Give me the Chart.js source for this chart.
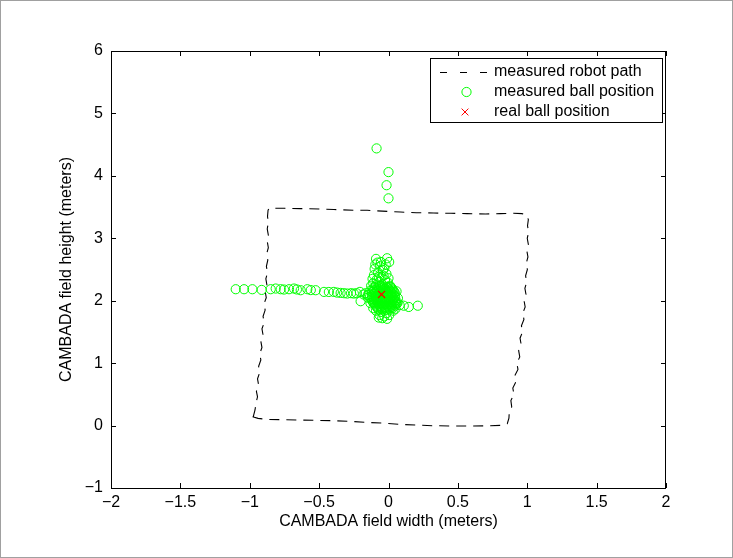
<!DOCTYPE html>
<html><head><meta charset="utf-8">
<script src="https://cdn.jsdelivr.net/npm/chart.js@4/dist/chart.umd.min.js"></script>
<style>html,body{margin:0;padding:0;background:#fff;}</style>
</head><body>
<canvas id="c" width="733" height="558"></canvas>
<script>
// ---- data ----
const xTicks = [-2, -1.5, -1, -0.5, 0, 0.5, 1, 1.5, 2];
const yTicks = [-1, 0, 1, 2, 3, 4, 5, 6];
const xLabel = 'CAMBADA field width (meters)';
const yLabel = 'CAMBADA field height (meters)';
const seriesNames = ['measured robot path', 'measured ball position', 'real ball position'];

// measured robot path (x, y)
const robotPath = [
  [-0.975,0.14],[-0.962,0.25],[-0.955,0.36],[-0.944,0.46],[-0.952,0.55],[-0.936,0.65],[-0.944,0.75],
  [-0.928,0.85],[-0.936,0.95],[-0.920,1.05],[-0.928,1.15],[-0.912,1.25],[-0.920,1.35],[-0.904,1.45],
  [-0.912,1.55],[-0.896,1.65],[-0.904,1.75],[-0.889,1.85],[-0.897,1.95],[-0.881,2.05],[-0.889,2.15],
  [-0.876,2.25],[-0.884,2.35],[-0.872,2.45],[-0.880,2.55],[-0.870,2.65],[-0.878,2.75],[-0.866,2.85],
  [-0.874,2.95],[-0.866,3.05],[-0.874,3.15],[-0.866,3.25],[-0.872,3.35],[-0.868,3.45],[-0.860,3.48],
  [-0.75,3.48],[-0.633,3.475],[-0.50,3.47],[-0.393,3.46],[-0.25,3.45],[-0.153,3.448],[0.0,3.43],
  [0.086,3.42],[0.2,3.41],[0.326,3.405],[0.45,3.40],[0.566,3.395],[0.7,3.39],[0.806,3.395],
  [0.90,3.40],[0.962,3.395],[0.995,3.37],[1.008,3.30],
  [1.002,3.20],[1.010,3.10],[1.000,3.00],[1.008,2.90],[0.997,2.80],[1.005,2.70],[0.993,2.60],
  [1.001,2.50],[0.988,2.40],[0.996,2.30],[0.983,2.20],[0.991,2.10],[0.977,2.00],[0.985,1.90],
  [0.968,1.80],[0.976,1.70],[0.958,1.60],[0.966,1.50],[0.948,1.40],[0.956,1.30],[0.938,1.20],
  [0.946,1.10],[0.925,1.00],[0.933,0.90],[0.910,0.80],[0.918,0.70],[0.896,0.60],[0.904,0.50],
  [0.882,0.40],[0.888,0.30],[0.870,0.20],[0.868,0.12],[0.856,0.03],
  [0.806,0.003],[0.70,-0.005],[0.566,-0.008],[0.45,-0.006],[0.326,-0.003],[0.2,0.008],[0.086,0.019],
  [-0.05,0.04],[-0.153,0.051],[-0.28,0.068],[-0.393,0.077],[-0.52,0.084],[-0.633,0.088],
  [-0.75,0.093],[-0.873,0.098],[-0.94,0.115],[-0.981,0.141]
];

// measured ball positions (x, y)
const ballPoints = [
  [-0.086,4.44],[0.0,4.06],[-0.014,3.85],[0.0,3.64],
  [-1.101,2.184],[-1.041,2.184],[-0.981,2.184],[-0.914,2.173],[-0.849,2.184],[-0.813,2.195],
  [-0.777,2.184],[-0.753,2.179],[-0.717,2.184],[-0.681,2.195],[-0.633,2.168],[-0.585,2.184],
  [-0.525,2.168],[-0.465,2.141],[-0.394,2.141],[-0.345,2.125],[-0.297,2.115],[-0.250,2.115],
  [-0.206,2.141],[-0.201,1.992],[-0.66,2.18],[-0.56,2.17],[-0.43,2.14],[-0.37,2.13],[-0.32,2.12],
  [-0.27,2.12],[-0.23,2.12],[-0.18,2.10],[-0.15,2.09],
  [-0.090,2.67],[-0.010,2.68],[-0.080,2.61],[-0.020,2.58],[-0.060,2.55],[-0.100,2.51],[-0.040,2.49],
  [-0.075,2.45],[-0.015,2.43],[-0.105,2.41],[-0.050,2.38],[-0.085,2.34],[-0.025,2.33],[-0.065,2.30],
  [-0.110,2.28],[-0.005,2.29],[-0.045,2.26],[-0.090,2.25],
  [-0.115,2.35],[-0.030,2.52],[-0.055,2.62],[0.005,2.62],[-0.095,2.58],[-0.035,2.40],[-0.070,2.38],[0.000,2.36],
  [-0.125,2.24],[-0.060,2.24],[0.010,2.24],[-0.132,2.16],[0.058,2.15],[-0.135,2.06],[0.068,2.04],
  [-0.130,1.96],[0.066,1.97],[-0.110,1.88],[0.050,1.87],[-0.090,1.84],[0.035,1.84],
  [-0.100,2.22],[-0.070,2.22],[-0.040,2.22],[-0.012,2.22],[0.015,2.22],
  [-0.085,2.20],[-0.055,2.20],[-0.027,2.20],[0.000,2.20],[0.025,2.20],
  [-0.112,2.18],[-0.085,2.18],[-0.055,2.18],[-0.027,2.18],[0.002,2.18],[0.028,2.18],
  [-0.105,2.16],[-0.077,2.16],[-0.048,2.16],[-0.020,2.16],[0.010,2.16],[0.035,2.16],
  [-0.118,2.14],[-0.092,2.14],[-0.062,2.14],[-0.035,2.14],[-0.008,2.14],[0.020,2.14],[0.042,2.14],
  [-0.100,2.12],[-0.070,2.12],[-0.040,2.12],[-0.010,2.12],[0.022,2.12],[0.045,2.12],
  [-0.108,2.10],[-0.078,2.10],[-0.050,2.10],[-0.022,2.10],[0.008,2.10],[0.035,2.10],
  [-0.120,2.08],[-0.092,2.08],[-0.064,2.08],[-0.036,2.08],[-0.008,2.08],[0.020,2.08],[0.045,2.08],
  [-0.115,2.06],[-0.088,2.06],[-0.060,2.06],[-0.032,2.06],[-0.004,2.06],[0.024,2.06],[0.048,2.06],
  [-0.100,2.04],[-0.072,2.04],[-0.044,2.04],[-0.016,2.04],[0.012,2.04],[0.038,2.04],
  [-0.105,2.02],[-0.075,2.02],[-0.046,2.02],[-0.018,2.02],[0.012,2.02],[0.038,2.02],
  [-0.118,2.00],[-0.090,2.00],[-0.062,2.00],[-0.034,2.00],[-0.006,2.00],[0.022,2.00],[0.046,2.00],
  [-0.112,1.98],[-0.084,1.98],[-0.056,1.98],[-0.028,1.98],[0.000,1.98],[0.027,1.98],[0.050,1.98],
  [-0.105,1.96],[-0.076,1.96],[-0.048,1.96],[-0.020,1.96],[0.008,1.96],[0.034,1.96],[0.055,1.96],
  [-0.098,1.94],[-0.068,1.94],[-0.040,1.94],[-0.012,1.94],[0.016,1.94],[0.040,1.94],
  [-0.092,1.92],[-0.064,1.92],[-0.036,1.92],[-0.008,1.92],[0.020,1.92],[0.045,1.92],
  [-0.085,1.90],[-0.058,1.90],[-0.030,1.90],[-0.002,1.90],[0.025,1.90],
  [-0.078,1.88],[-0.050,1.88],[-0.022,1.88],[0.005,1.88],[0.030,1.88],
  [-0.072,1.86],[-0.044,1.86],[-0.016,1.86],[0.010,1.86],
  [-0.055,1.82],[-0.015,1.80],[-0.065,1.77],[-0.030,1.75],[0.005,1.77],[-0.045,1.72],[-0.010,1.71],[-0.070,1.73],
  [0.060,1.95],[0.080,1.93],[0.110,1.92],[0.146,1.90],[0.211,1.92],
  [-0.140,2.10],[-0.165,2.12],[-0.150,2.05]
];

// real ball position
const realBall = [[-0.05, 2.10]];

// ---- styles ----
const FONT = '"Liberation Sans", Arial, Helvetica, sans-serif';
const GREEN = '#00ff00';
const RED = '#ff0000';
const toXY = arr => arr.map(p => ({x: p[0], y: p[1]}));
const fmt = v => String(v).replace('-', '\u2212');

const framePlugin = {
  id: 'matlabFrame',
  afterDraw(chart) {
    const ctx = chart.ctx;
    const a = chart.chartArea;
    const xs = chart.scales.x, ys = chart.scales.y;
    ctx.save();
    ctx.strokeStyle = '#000';
    ctx.lineWidth = 1;
    ctx.setLineDash([]);
    // axes box
    ctx.strokeRect(Math.round(a.left) + 0.5, Math.round(a.top) + 0.5,
                   Math.round(a.right - a.left) - 1, Math.round(a.bottom - a.top));
    const L = 5;
    ctx.beginPath();
    xTicks.forEach(v => {
      const px = Math.round(xs.getPixelForValue(v)) + 0.5;
      ctx.moveTo(px, a.bottom); ctx.lineTo(px, a.bottom - L);
      ctx.moveTo(px, a.top); ctx.lineTo(px, a.top + L);
    });
    yTicks.forEach(v => {
      const py = Math.round(ys.getPixelForValue(v)) + 0.5;
      ctx.moveTo(a.left, py); ctx.lineTo(a.left + L, py);
      ctx.moveTo(a.right, py); ctx.lineTo(a.right - L, py);
    });
    ctx.stroke();

    // legend
    const bx = 430.5, by = 58.5, bw = 232, bh = 64;
    ctx.fillStyle = '#fff';
    ctx.fillRect(bx, by, bw, bh);
    ctx.strokeRect(bx, by, bw, bh);
    const rows = [72, 91.5, 111.5];
    const textX = 494;
    ctx.font = '16px ' + FONT;
    ctx.fillStyle = '#000';
    ctx.textBaseline = 'middle';
    ctx.textAlign = 'left';
    seriesNames.forEach((t, i) => ctx.fillText(t, textX, rows[i]));
    // line sample
    ctx.beginPath();
    ctx.setLineDash([7, 13]);
    ctx.moveTo(440, rows[0] + 0.5); ctx.lineTo(490, rows[0] + 0.5);
    ctx.stroke();
    ctx.setLineDash([]);
    // circle sample
    ctx.strokeStyle = GREEN;
    ctx.beginPath();
    ctx.arc(466.5, rows[1] + 0.5, 4.6, 0, Math.PI * 2);
    ctx.stroke();
    // x sample
    ctx.strokeStyle = RED;
    ctx.beginPath();
    const cx = 465, cy = rows[2] + 0.5, r = 3.4;
    ctx.moveTo(cx - r, cy - r); ctx.lineTo(cx + r, cy + r);
    ctx.moveTo(cx - r, cy + r); ctx.lineTo(cx + r, cy - r);
    ctx.stroke();

    // figure border
    ctx.strokeStyle = '#a0a0a0';
    ctx.strokeRect(0.5, 0.5, chart.width - 1, chart.height - 1);
    ctx.restore();
  }
};

new Chart(document.getElementById('c'), {
  type: 'scatter',
  data: {
    datasets: [
      {
        label: seriesNames[0], data: toXY(robotPath), showLine: true,
        borderColor: '#000', borderWidth: 1.1, borderDash: [10, 7], pointRadius: 0,
        fill: false, tension: 0, order: 3
      },
      {
        label: seriesNames[1], data: toXY(ballPoints), showLine: false,
        pointStyle: 'circle', pointRadius: 4.6, borderColor: GREEN, pointBorderColor: GREEN,
        backgroundColor: 'rgba(0,0,0,0)', pointBackgroundColor: 'rgba(0,0,0,0)',
        pointBorderWidth: 1, order: 2
      },
      {
        label: seriesNames[2], data: toXY(realBall), showLine: false,
        pointStyle: 'crossRot', pointRadius: 5, borderColor: RED, pointBorderColor: RED,
        pointBorderWidth: 1.2, order: 1
      }
    ]
  },
  options: {
    responsive: false,
    animation: false,
    devicePixelRatio: 1,
    layout: { padding: { left: 0, right: 67, top: 51, bottom: 0 } },
    plugins: { legend: { display: false }, tooltip: { enabled: false } },
    scales: {
      x: {
        type: 'linear', min: -2, max: 2,
        afterBuildTicks: s => { s.ticks = xTicks.map(v => ({ value: v })); },
        afterFit: s => { s.height = 70; },
        ticks: { callback: v => fmt(v), font: { family: FONT, size: 16 }, color: '#000', padding: -3, maxRotation: 0, autoSkip: false },
        grid: { display: false }, border: { display: false },
        title: { display: true, text: xLabel, color: '#000', font: { family: FONT, size: 16 }, padding: { top: 0, bottom: 27 } }
      },
      y: {
        type: 'linear', min: -1, max: 6,
        afterBuildTicks: s => { s.ticks = yTicks.map(v => ({ value: v })); },
        afterFit: s => { s.width = 111; },
        ticks: { callback: v => fmt(v), font: { family: FONT, size: 16 }, color: '#000', padding: 0, autoSkip: false },
        grid: { display: false }, border: { display: false },
        title: { display: true, text: yLabel, color: '#000', font: { family: FONT, size: 16 }, padding: { top: 57, bottom: 0 } }
      }
    }
  },
  plugins: [framePlugin]
});
</script>
</body></html>
